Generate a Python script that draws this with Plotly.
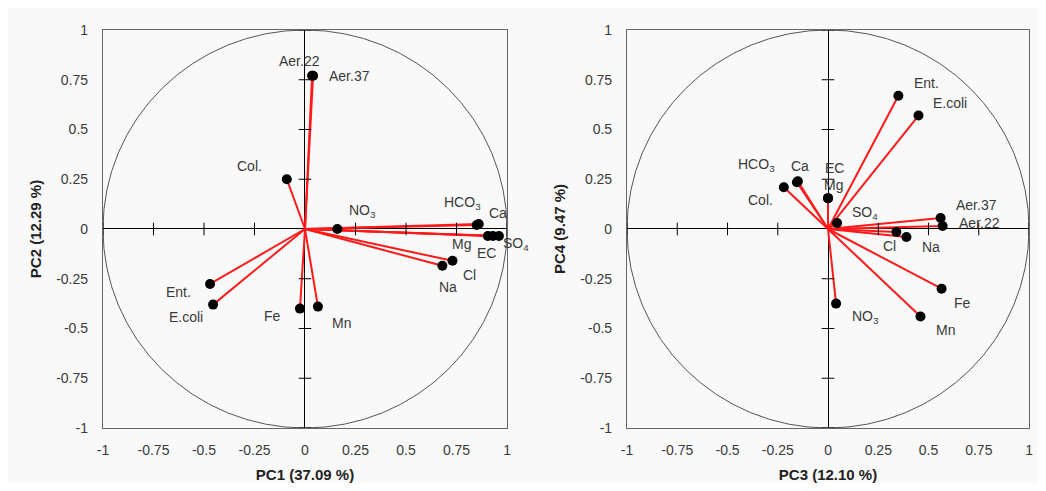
import plotly.graph_objects as go

# ---------------- data ----------------
vars_left = ["Aer.22", "Aer.37", "Col.", "NO<sub>3</sub>", "HCO<sub>3</sub>", "Ca", "Mg", "EC",
             "SO<sub>4</sub>", "Cl", "Na", "Ent.", "E.coli", "Fe", "Mn"]
pc1 = [0.035, 0.04, -0.09, 0.16, 0.85, 0.86, 0.905, 0.93, 0.96, 0.73, 0.68, -0.47, -0.455, -0.025, 0.064]
pc2 = [0.77, 0.77, 0.25, 0.0, 0.02, 0.025, -0.035, -0.035, -0.035, -0.16, -0.185, -0.276, -0.38, -0.40, -0.39]

vars_right = ["Ent.", "E.coli", "HCO<sub>3</sub>", "Ca", "Col.", "EC", "Mg", "SO<sub>4</sub>",
              "Aer.37", "Aer.22", "Cl", "Na", "Fe", "Mn", "NO<sub>3</sub>"]
pc3 = [0.35, 0.45, -0.155, -0.15, -0.22, 0.0, 0.0, 0.045, 0.56, 0.57, 0.34, 0.39, 0.565, 0.46, 0.04]
pc4 = [0.67, 0.57, 0.235, 0.24, 0.21, 0.155, 0.155, 0.03, 0.055, 0.015, -0.015, -0.04, -0.30, -0.44, -0.375]

tick_vals = [-1, -0.75, -0.5, -0.25, 0, 0.25, 0.5, 0.75, 1]
tick_text = ["-1", "-0.75", "-0.5", "-0.25", "0", "0.25", "0.5", "0.75", "1"]

x_titles = ["<b>PC1 (37.09 %)</b>", "<b>PC3 (12.10 %)</b>"]
y_titles = ["<b>PC2 (12.29 %)</b>", "<b>PC4 (9.47 %)</b>"]

# label pixel offsets (styling): (dx right, dy down)
offs_left = {"Aer.22": (-13, -15), "Aer.37": (36, 0), "Col.": (-37, -13), "NO<sub>3</sub>": (25, -18),
             "HCO<sub>3</sub>": (-14, -22), "Ca": (19, -11), "Mg": (-26, 8), "EC": (-6, 17),
             "SO<sub>4</sub>": (17, 8), "Cl": (17, 14), "Na": (6, 21), "Ent.": (-32, 8),
             "E.coli": (-27, 12), "Fe": (-27, 7), "Mn": (24, 16)}
offs_right = {"Ent.": (28, -13), "E.coli": (32, -13), "HCO<sub>3</sub>": (-40, -17), "Ca": (2, -15),
              "Col.": (-23, 13), "EC": (6, -30), "Mg": (5, -13), "SO<sub>4</sub>": (28, -10),
              "Aer.37": (36, -13), "Aer.22": (37, -3), "Cl": (-7, 14), "Na": (25, 10),
              "Fe": (21, 14), "Mn": (25, 13), "NO<sub>3</sub>": (29, 13)}

FONT = "Liberation Sans, Arial, sans-serif"
TXT = "#3a3a3a"
BG = "#f9f9f9"

fig = go.Figure()


def add_panel(xs, ys, names, offs, xa, ya):
    lx, ly = [], []
    for x, y in zip(xs, ys):
        lx += [0, x, None]
        ly += [0, y, None]
    fig.add_trace(go.Scatter(x=lx, y=ly, mode="lines", line=dict(color="#ff1a1a", width=2),
                             xaxis=xa, yaxis=ya, hoverinfo="skip", showlegend=False))
    tv = [t for t in tick_vals if t != 0]
    fig.add_trace(go.Scatter(x=tv, y=[0] * len(tv), mode="markers",
                             marker=dict(symbol="line-ns-open", size=9, color="black",
                                         line=dict(color="black", width=1)),
                             xaxis=xa, yaxis=ya, hoverinfo="skip", showlegend=False))
    fig.add_trace(go.Scatter(x=[0] * len(tv), y=tv, mode="markers",
                             marker=dict(symbol="line-ew-open", size=9, color="black",
                                         line=dict(color="black", width=1)),
                             xaxis=xa, yaxis=ya, hoverinfo="skip", showlegend=False))
    fig.add_trace(go.Scatter(x=xs, y=ys, mode="markers", marker=dict(color="black", size=10),
                             xaxis=xa, yaxis=ya, hoverinfo="skip", showlegend=False))
    for x, y, n in zip(xs, ys, names):
        dx, dy = offs[n]
        fig.add_annotation(x=x, y=y, xref=xa, yref=ya, text=n, showarrow=False,
                           xshift=dx, yshift=-dy, font=dict(family=FONT, size=14, color=TXT))
    fig.add_shape(type="circle", xref=xa, yref=ya, x0=-1, y0=-1, x1=1, y1=1,
                  line=dict(color="#555555", width=1), layer="below")


add_panel(pc1, pc2, vars_left, offs_left, "x", "y")
add_panel(pc3, pc4, vars_right, offs_right, "x2", "y2")

dom_y = [0.1158, 0.9537]
axis_common = dict(range=[-1, 1], tickvals=tick_vals, ticktext=tick_text, showgrid=False,
                   zeroline=True, zerolinecolor="black", zerolinewidth=1,
                   showline=True, linecolor="#666666", linewidth=1.2, mirror=True,
                   ticks="", automargin=False,
                   tickfont=dict(family=FONT, size=14, color=TXT))
xt = dict(ticklabelstandoff=9)
yt = dict(ticklabelstandoff=11)
tfont = dict(family=FONT, size=15, color="#222")

fig.update_layout(
    width=1030, height=475,
    margin=dict(l=0, r=0, t=0, b=0),
    paper_bgcolor=BG, plot_bgcolor=BG,
    xaxis=dict(domain=[0.0922, 0.4845], anchor="y",
               title=dict(text=x_titles[0], font=tfont, standoff=12), **axis_common, **xt),
    yaxis=dict(domain=dom_y, anchor="x",
               title=dict(text=y_titles[0], font=tfont, standoff=10), **axis_common, **yt),
    xaxis2=dict(domain=[0.601, 0.9913], anchor="y2",
                title=dict(text=x_titles[1], font=tfont, standoff=12), **axis_common, **xt),
    yaxis2=dict(domain=dom_y, anchor="x2",
                title=dict(text=y_titles[1], font=tfont, standoff=10), **axis_common, **yt),
    showlegend=False,
)

fig.write_html("out.html")
